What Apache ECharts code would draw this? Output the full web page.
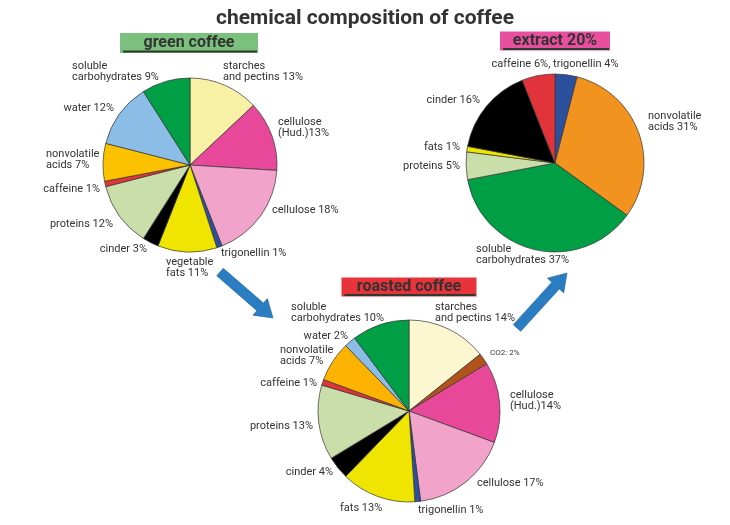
<!DOCTYPE html>
<html><head><meta charset="utf-8">
<script src="https://cdn.jsdelivr.net/npm/echarts@6/dist/echarts.min.js"></script>
<style>html,body{margin:0;padding:0;background:#fff}#c{width:730px;height:525px}</style>
</head><body><div id="c"></div>
<script>
// ---- data ----
const greenNames = ['starches\nand pectins', 'cellulose\n(Hud.)', 'cellulose', 'trigonellin', 'vegetable\nfats', 'cinder', 'proteins', 'caffeine', 'nonvolatile\nacids', 'water', 'soluble\ncarbohydrates'];
const greenValues = [13, 13, 18, 1, 11, 3, 12, 1, 7, 12, 9];

const extractNames = ['trigonellin', 'nonvolatile\nacids', 'soluble\ncarbohydrates', 'proteins', 'fats', 'cinder', 'caffeine'];
const extractValues = [4, 31, 37, 5, 1, 16, 6];

const roastedNames = ['starches\nand pectins', 'CO2:', 'cellulose\n(Hud.)', 'cellulose', 'trigonellin', 'fats', 'cinder', 'proteins', 'caffeine', 'nonvolatile\nacids', 'water', 'soluble\ncarbohydrates'];
const roastedValues = [14, 2, 14, 17, 1, 13, 4, 13, 1, 7, 2, 10];

const titles = ['green coffee', 'extract 20%', 'roasted coffee'];
const mainTitle = 'chemical composition of coffee';

// ---- label placement (layout only) ----
const greenLabelPos = [[223, 72, 'left'], [278, 128, 'left'], [272, 210, 'left'], [221, 253, 'left'], [166, 268, 'left'], [147, 249, 'right'], [113, 224, 'right'], [100, 189, 'right'], [46, 160, 'left'], [114, 108, 'right'], [72, 72, 'left']];
const extractLabelPos = [null, [648, 122, 'left'], [476, 255, 'left'], [460, 166, 'right'], [460, 147, 'right'], [480, 100, 'right'], [555, 64, 'center']];
const roastedLabelPos = [[435, 313, 'left'], [490, 353, 'left'], [510, 401, 'left'], [477, 483, 'left'], [418, 510, 'left'], [340, 508, 'left'], [333, 472, 'right'], [313, 426, 'right'], [317, 383, 'right'], [280, 356, 'left'], [348, 336, 'right'], [291, 313, 'left']];

// ---- styles ----
const colorOf = {
  'starches\nand pectins': '#f8f0a4',
  'cellulose\n(Hud.)': '#e8489a',
  'cellulose': '#f2a3c9',
  'trigonellin': '#2c4f9e',
  'vegetable\nfats': '#f0e500',
  'fats': '#f0e500',
  'cinder': '#000000',
  'proteins': '#c9dea9',
  'caffeine': '#e2333a',
  'nonvolatile\nacids': '#fcc200',
  'water': '#8bbde6',
  'soluble\ncarbohydrates': '#009e45',
  'CO2:': '#b0541c'
};
const extractColors = {'nonvolatile\nacids': '#f2921f'};
const roastedColors = {'starches\nand pectins': '#fcf7d0', 'nonvolatile\nacids': '#fbb300'};

function fmt(p) {
  const n = p.name;
  const sep = n.endsWith(')') ? '' : ' ';
  return n + sep + p.value + '%';
}

function build(names, values, over) {
  return names.map((n, i) => ({
    name: n, value: values[i],
    itemStyle: {color: (over && over[n]) || colorOf[n]}
  }));
}

const labelStyle = {color: '#333', fontSize: 11, lineHeight: 11, fontFamily: 'Roboto'};

function layoutFrom(table) {
  return function (p) {
    const t = table[p.dataIndex];
    if (!t) return {};
    return {x: t[0], y: t[1], align: t[2], verticalAlign: 'middle'};
  };
}

function pieSeries(center, radius, data, posTable) {
  return {
    type: 'pie', center: center, radius: radius, startAngle: 90, clockwise: true,
    avoidLabelOverlap: false, animation: false,
    itemStyle: {borderColor: '#333', borderWidth: 0.7},
    label: Object.assign({show: true, position: 'outside', formatter: fmt, alignTo: 'none'}, labelStyle),
    labelLine: {show: false, length: 8, length2: 0},
    labelLayout: layoutFrom(posTable),
    emphasis: {disabled: true},
    data: data
  };
}

const extractData = build(extractNames, extractValues, extractColors);
extractData[0].label = {show: false};
extractData[6].label = {formatter: 'caffeine 6%, trigonellin 4%'};
const roastedData = build(roastedNames, roastedValues, roastedColors);
roastedData[1].label = {fontSize: 8, formatter: 'CO2: 2%'};

function arrow(x1, y1, x2, y2) {
  const dx = x2 - x1, dy = y2 - y1, L = Math.hypot(dx, dy);
  const ux = dx / L, uy = dy / L, px = -uy, py = ux;
  const hw = 5, hh = 11, hl = 17;
  const bx = x2 - ux * hl, by = y2 - uy * hl;
  return {
    type: 'polygon',
    shape: {points: [
      [x1 + px * hw, y1 + py * hw], [bx + px * hw, by + py * hw], [bx + px * hh, by + py * hh],
      [x2, y2], [bx - px * hh, by - py * hh], [bx - px * hw, by - py * hw], [x1 - px * hw, y1 - py * hw]
    ]},
    style: {fill: '#2a7dc1', stroke: '#1f5f99', lineWidth: 0.6}
  };
}

function box(cx, cy, w, h, fill, text) {
  return {
    type: 'group', children: [
      {type: 'rect', shape: {x: cx - w / 2, y: cy - h / 2, width: w, height: h}, style: {fill: fill}},
      {type: 'line', shape: {x1: cx - w / 2 + 3, y1: cy + h / 2 - 1.5, x2: cx + w / 2 - 1, y2: cy + h / 2 - 1.5}, style: {stroke: '#2f3a2f', lineWidth: 2}},
      {type: 'text', x: cx, y: cy, style: {text: text, fill: '#333', font: 'bold 16px Roboto', align: 'center', verticalAlign: 'middle'}}
    ]
  };
}

const chart = echarts.init(document.getElementById('c'), null, {renderer: 'canvas'});
chart.setOption({
  backgroundColor: '#fff',
  animation: false,
  title: {text: mainTitle, left: 'center', top: 3, textStyle: {fontSize: 21, fontWeight: 'bold', color: '#333', fontFamily: 'Roboto'}},
  graphic: [
    box(189, 43, 138, 20, '#79c17c', titles[0]),
    box(555, 41, 110, 19, '#e94f9f', titles[1]),
    box(409, 287, 135, 19, '#e8333a', titles[2]),
    arrow(220, 272, 273, 318),
    arrow(517, 328, 567, 273)
  ],
  series: [
    pieSeries([190, 165], 87, build(greenNames, greenValues), greenLabelPos),
    pieSeries([555, 163], 89, extractData, extractLabelPos),
    pieSeries([409, 411], 91, roastedData, roastedLabelPos)
  ]
});
</script></body></html>
